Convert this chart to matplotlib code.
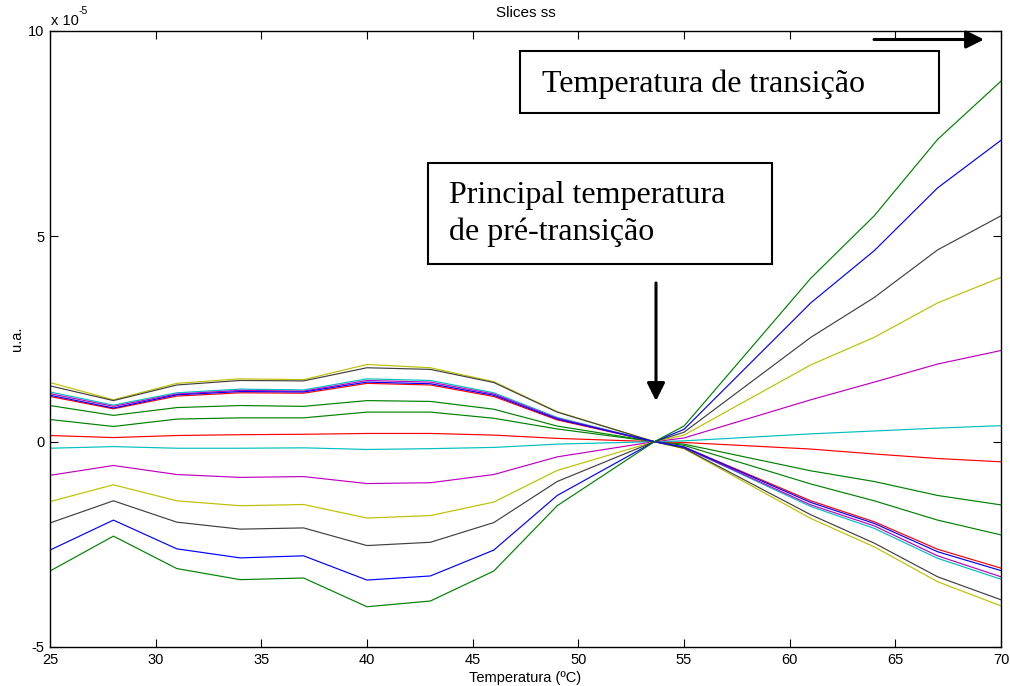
import matplotlib
matplotlib.use("Agg")
import matplotlib.pyplot as plt
from matplotlib.patches import FancyArrowPatch, Rectangle

# Temperatures of the slices (°C)
temperature = [25, 28, 31, 34, 37, 40, 43, 46, 49, 53.6, 55, 61, 64, 67, 70]

# Slice signals, in units of 1e-5 (u.a.)
green_a = [-3.15, -2.30, -3.09, -3.36, -3.32, -4.02, -3.88, -3.15, -1.56, 0, 0.38, 3.98, 5.50, 7.36, 8.78]
blue_a = [-2.64, -1.91, -2.61, -2.83, -2.78, -3.37, -3.27, -2.64, -1.31, 0, 0.30, 3.38, 4.65, 6.18, 7.34]
gray_a = [-1.98, -1.44, -1.96, -2.13, -2.10, -2.53, -2.45, -1.97, -0.97, 0, 0.23, 2.54, 3.51, 4.67, 5.50]
yellow_a = [-1.46, -1.05, -1.44, -1.56, -1.53, -1.86, -1.80, -1.47, -0.70, 0, 0.16, 1.87, 2.54, 3.38, 4.00]
magenta_a = [-0.82, -0.58, -0.80, -0.87, -0.85, -1.02, -1.00, -0.80, -0.37, 0, 0.09, 1.02, 1.45, 1.89, 2.22]
cyan_a = [-0.16, -0.12, -0.16, -0.16, -0.15, -0.19, -0.17, -0.14, -0.06, 0, 0.02, 0.19, 0.26, 0.33, 0.39]
red_a = [0.15, 0.10, 0.15, 0.17, 0.18, 0.20, 0.20, 0.16, 0.08, 0, -0.02, -0.18, -0.30, -0.41, -0.49]
green_b = [0.54, 0.37, 0.55, 0.58, 0.58, 0.72, 0.72, 0.57, 0.31, 0, -0.06, -0.71, -0.97, -1.31, -1.54]
green_c = [0.88, 0.64, 0.83, 0.88, 0.86, 1.00, 0.98, 0.79, 0.38, 0, -0.09, -1.03, -1.44, -1.91, -2.27]
red_b = [1.10, 0.80, 1.11, 1.19, 1.18, 1.42, 1.38, 1.10, 0.53, 0, -0.13, -1.44, -1.95, -2.62, -3.08]
blue_b = [1.13, 0.82, 1.14, 1.22, 1.21, 1.45, 1.41, 1.13, 0.55, 0, -0.13, -1.48, -1.99, -2.68, -3.14]
magenta_b = [1.17, 0.86, 1.16, 1.25, 1.23, 1.49, 1.45, 1.16, 0.57, 0, -0.14, -1.54, -2.05, -2.78, -3.29]
cyan_b = [1.21, 0.89, 1.19, 1.28, 1.26, 1.53, 1.49, 1.19, 0.59, 0, -0.14, -1.58, -2.11, -2.84, -3.35]
gray_b = [1.36, 1.00, 1.38, 1.49, 1.48, 1.80, 1.76, 1.44, 0.72, 0, -0.16, -1.78, -2.47, -3.29, -3.85]
yellow_b = [1.44, 1.02, 1.42, 1.53, 1.51, 1.88, 1.80, 1.46, 0.73, 0, -0.17, -1.87, -2.56, -3.41, -4.00]

x_ticks = [25, 30, 35, 40, 45, 50, 55, 60, 65, 70]
y_ticks = [-5, 0, 5, 10]

G = (0.0, 0.5, 0.0)
B = (0.0, 0.0, 1.0)
R = (1.0, 0.0, 0.0)
C = (0.0, 0.75, 0.75)
M = (0.75, 0.0, 0.75)
Y = (0.75, 0.75, 0.0)
K = (0.25, 0.25, 0.25)

series = [
    (green_b, G), (red_a, R), (cyan_a, C), (magenta_a, M), (yellow_a, Y),
    (gray_a, K), (blue_a, B), (green_c, G), (red_b, R), (cyan_b, C),
    (magenta_b, M), (yellow_b, Y), (gray_b, K), (blue_b, B), (green_a, G),
]

W, H = 1010, 686
fig = plt.figure(figsize=(W / 100, H / 100), dpi=100)
fig.patch.set_facecolor("white")

def fx(px):
    return px / W

def fy(py):
    return 1 - py / H

ax = fig.add_axes([fx(50), fy(647), fx(1001) - fx(50), fy(31) - fy(647)])

for values, color in series:
    ax.plot(temperature, values, color=color, lw=0.85)

ax.set_xlim(25, 70)
ax.set_ylim(-5, 10)
ax.set_xticks(x_ticks)
ax.set_yticks(y_ticks)
ax.set_xticklabels([str(t) for t in x_ticks])
ax.set_yticklabels([str(t) for t in y_ticks])

label_size = 10.5
tick_font = dict(family="Liberation Sans", size=label_size)
for lab in ax.get_xticklabels() + ax.get_yticklabels():
    lab.set_fontfamily("Liberation Sans")
    lab.set_fontsize(label_size)

ax.tick_params(direction="in", length=6, width=0.8, top=True, right=True,
               pad=4, colors="black")
for sp in ax.spines.values():
    sp.set_linewidth(1.0)

ax.set_xlabel("Temperatura (ºC)", fontdict=tick_font, labelpad=3)
ax.set_ylabel("u.a.", fontdict=tick_font, labelpad=3)
ax.set_title("Slices ss", family="Liberation Sans", size=11, pad=10)

# Exponent marker above the y axis
fig.text(fx(51), fy(25), "x 10", family="Liberation Sans", size=label_size,
         ha="left", va="baseline")
fig.text(fx(79), fy(14), "-5", family="Liberation Sans", size=7.5,
         ha="left", va="baseline")

# Annotation boxes
serif = dict(family="Liberation Serif", size=23)
fig.patches.append(Rectangle((fx(520), fy(113)), fx(939) - fx(520), fy(51) - fy(113),
                             transform=fig.transFigure, fill=False, lw=1.5,
                             edgecolor="black", zorder=5))
fig.text(fx(542), fy(92), "Temperatura de transição", ha="left", va="baseline", **serif)

fig.patches.append(Rectangle((fx(428), fy(264)), fx(772) - fx(428), fy(163) - fy(264),
                             transform=fig.transFigure, fill=False, lw=1.5,
                             edgecolor="black", zorder=5))
fig.text(fx(449), fy(203), "Principal temperatura", ha="left", va="baseline", **serif)
fig.text(fx(449), fy(240), "de pré-transição", ha="left", va="baseline", **serif)

# Arrows
fig.patches.append(FancyArrowPatch((fx(656), fy(283)), (fx(656), fy(401)),
                                   transform=fig.transFigure, arrowstyle="-|>",
                                   mutation_scale=27, lw=2.2, color="black",
                                   shrinkA=0, shrinkB=0, zorder=6))
fig.patches.append(FancyArrowPatch((fx(874), fy(39.5)), (fx(984), fy(39.5)),
                                   transform=fig.transFigure, arrowstyle="-|>",
                                   mutation_scale=27, lw=2.2, color="black",
                                   shrinkA=0, shrinkB=0, zorder=6))

fig.savefig("out.png", dpi=100, facecolor="white")
